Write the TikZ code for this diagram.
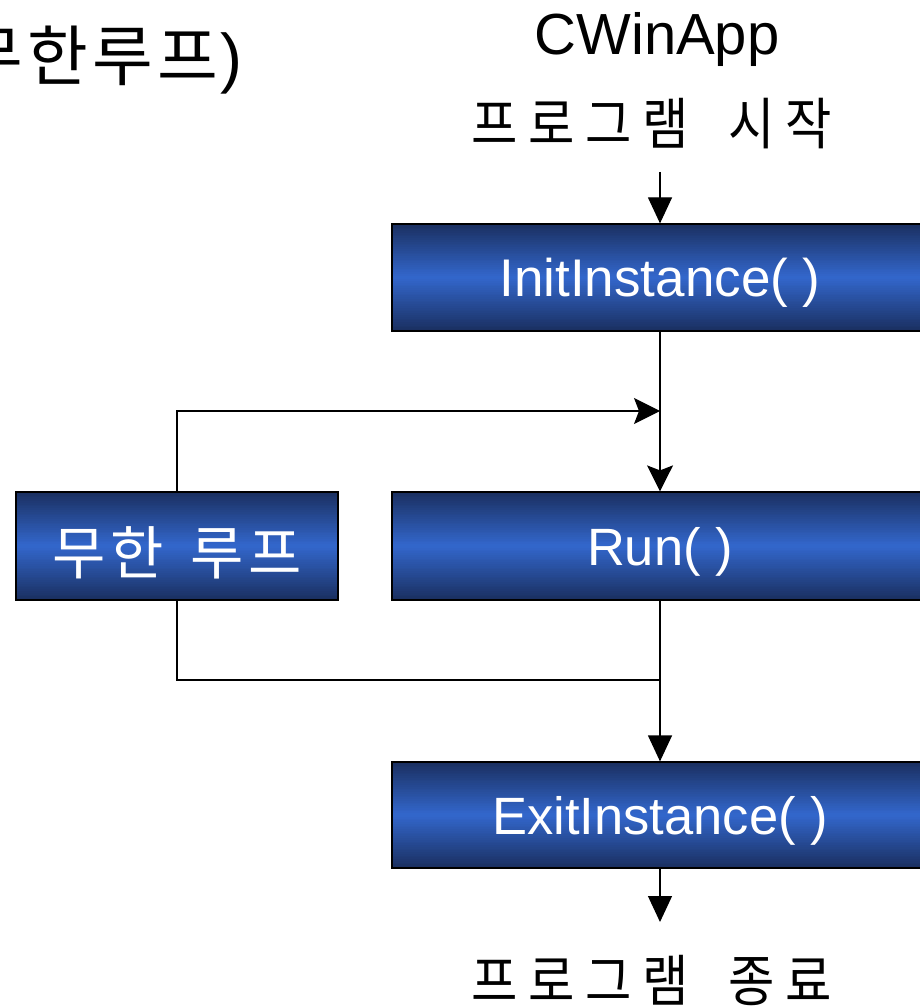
\documentclass[tikz,border=0pt]{standalone}
\usepackage{fontspec}
\setmainfont{Liberation Sans}
\newfontfamily\kr[FakeStretch=0.9]{Noto Sans CJK KR}
\newfontfamily\krw{Noto Sans CJK KR}
\newcommand\kcell[2]{\makebox[#1][c]{#2}}
\usetikzlibrary{arrows.meta,calc}
\definecolor{boxdark}{HTML}{1A2F60}
\definecolor{boxmid}{HTML}{3367CC}
\begin{document}
\begin{tikzpicture}[x=1pt,y=-1pt,
  box/.style={draw=black, line width=1.2pt, inner sep=0pt, text=white,
    text height=38pt, text depth=0pt, fill=boxdark,
    path picture={
      \foreach \i in {0,...,59}{
        \pgfmathsetmacro\ta{\i/60}
        \pgfmathsetmacro\tb{(\i+1.4)/60}
        \pgfmathsetmacro\pc{100*(1-abs(2*(\i+0.5)/60-1))}
        \fill[boxmid!\pc!boxdark]
          ($(path picture bounding box.north west)!\ta!(path picture bounding box.south west)$)
          rectangle
          ($(path picture bounding box.north east)!\tb!(path picture bounding box.south east)$);
      }
    }},
  link/.style={draw=black, line width=1.2pt},
  tip/.style={-{Triangle[length=26pt,width=24pt]}},
  tipb/.style={-{Stealth[length=26pt,width=26pt,inset=5pt]}},
  label/.style={inner sep=0pt, text=black}]
\useasboundingbox (0,0) rectangle (919,1008);
% title texts
\node[label, anchor=base] (title) at (657,55) {\fontsize{58}{62}\selectfont CWinApp};
\node[label, anchor=base] (begin) at (652,145) {\kr\fontsize{56}{60}\selectfont
  \kcell{57pt}{프}\kcell{57pt}{로}\kcell{57pt}{그}\kcell{57pt}{램}\hspace{29pt}\kcell{57pt}{시}\kcell{57pt}{작}};
\node[label, anchor=base] (finish) at (652,1001) {\kr\fontsize{56}{60}\selectfont
  \kcell{57pt}{프}\kcell{57pt}{로}\kcell{57pt}{그}\kcell{57pt}{램}\hspace{29pt}\kcell{57pt}{종}\kcell{57pt}{료}};
\node[label, anchor=base west] (note) at (-62,81) {\fontsize{66}{70}\selectfont
  (\kcell{65pt}{\krw 무}\kcell{65pt}{\krw 한}\kcell{65pt}{\krw 루}\kcell{65pt}{\krw 프})};
% boxes
\node[box, minimum width=536pt, minimum height=107pt] (init) at (660,277.5)
  {\fontsize{53}{57}\selectfont InitInstance( )};
\node[box, minimum width=536pt, minimum height=108pt] (run) at (660,546)
  {\fontsize{52.5}{57}\selectfont Run( )};
\node[box, minimum width=536pt, minimum height=106pt] (exit) at (660,815)
  {\fontsize{52.5}{57}\selectfont ExitInstance( )};
\node[box, text height=57pt, minimum width=322pt, minimum height=108pt] (loop) at (177,546)
  {\krw\fontsize{58}{62}\selectfont
   \kcell{58pt}{무}\kcell{58pt}{한}\hspace{22pt}\kcell{58pt}{루}\kcell{58pt}{프}\hspace{6pt}};
% connectors
\coordinate (a0) at (660,172);
\coordinate (j1) at (660,411);
\coordinate (j2) at (660,680);
\coordinate (aend) at (660,922);
\draw[link,tip] (a0) -- (init.north);
\draw[link,tipb] (init.south) -- (run.north);
\draw[link,tipb] (loop.north) |- (j1);
\draw[link] (loop.south) |- (j2);
\draw[link,tip] (run.south) -- (exit.north);
\draw[link,tip] (exit.south) -- (aend);
\end{tikzpicture}
\end{document}
